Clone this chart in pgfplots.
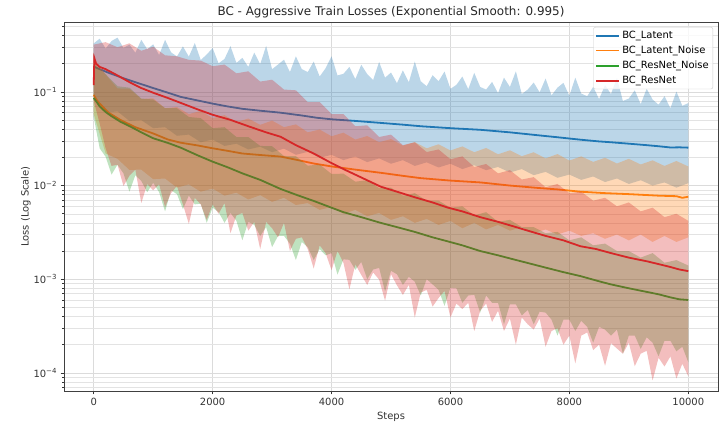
\documentclass[border=0pt]{standalone}
\usepackage{fontspec}
\setmainfont{DejaVu Sans}
\usepackage{pgfplots}
\pgfplotsset{compat=1.18}
\definecolor{tabblue}{HTML}{1F77B4}
\definecolor{taborange}{HTML}{FF7F0E}
\definecolor{tabgreen}{HTML}{2CA02C}
\definecolor{tabred}{HTML}{D62728}

\begin{document}
\begin{tikzpicture}
\begin{axis}[
  scale only axis, width=654bp, height=369bp,
  ymode=log,
  xmin=-500, xmax=10500, ymin=6.4e-5, ymax=0.558,
  scaled x ticks=false,
  xtick={0,2000,4000,6000,8000,10000},
  xticklabels={0,2000,4000,6000,8000,10000},
  ytick={1e-4,1e-3,1e-2,1e-1},
  yticklabels={10\textsuperscript{−4},10\textsuperscript{−3},10\textsuperscript{−2},10\textsuperscript{−1}},
  minor ytick={7e-5,8e-5,9e-5,2e-4,3e-4,4e-4,5e-4,6e-4,7e-4,8e-4,9e-4,2e-3,3e-3,4e-3,5e-3,6e-3,7e-3,8e-3,9e-3,2e-2,3e-2,4e-2,5e-2,6e-2,7e-2,8e-2,9e-2,0.2,0.3,0.4,0.5},
  xmajorgrids, ymajorgrids, yminorgrids,
  major grid style={black!14, line width=0.5bp},
  minor grid style={black!11, line width=0.5bp},
  tick align=outside, tick pos=left,
  major tick length=3.5bp, minor tick length=2bp,
  every tick/.style={black!80, line width=0.6bp},
  axis line style={black!75, line width=0.8bp},
  tick label style={font=\fontsize{10}{12}\selectfont, text=black!80},
  label style={font=\fontsize{10}{12}\selectfont, text=black!80},
  ylabel style={yshift=-4bp},
  title={BC - Aggressive Train Losses (Exponential Smooth: 0.995)},
  title style={font=\fontsize{12}{14}\selectfont, text=black!85, yshift=-5bp},
  xlabel={Steps}, ylabel={Loss (Log Scale)},
  legend style={at={(1,1)}, anchor=north east, xshift=-5bp, yshift=-5bp,
    font=\fontsize{10}{12}\selectfont, draw=black!20, rounded corners=2bp,
    fill=white, fill opacity=0.8, text opacity=1, inner sep=2bp, row sep=2bp},
  legend cell align=left,
  legend image code/.code={\draw[#1] (0bp,0bp) -- (23bp,0bp);},
  band/.style={draw=none, fill=#1, fill opacity=0.3, forget plot},
]
% ---------- BC_Latent: raw-loss band (upper edge, then lower edge backwards), then smoothed curve
\addplot[band=tabblue] coordinates {
(0,0.33) (100,0.37) (200,0.29) (300,0.35) (400,0.38) (500,0.295) (600,0.32) (700,0.262) (800,0.36) (900,0.286)
(1000,0.322) (1100,0.248) (1200,0.36) (1300,0.265) (1400,0.239) (1500,0.306) (1600,0.238) (1700,0.333) (1800,0.219) (1900,0.251)
(2000,0.294) (2100,0.202) (2200,0.225) (2300,0.308) (2400,0.204) (2500,0.231) (2600,0.185) (2700,0.263) (2800,0.198) (2900,0.31)
(3000,0.175) (3100,0.196) (3200,0.221) (3300,0.163) (3400,0.24) (3500,0.175) (3600,0.163) (3700,0.211) (3800,0.146) (3900,0.179)
(4000,0.24) (4100,0.15) (4200,0.156) (4300,0.185) (4400,0.137) (4500,0.195) (4600,0.155) (4700,0.134) (4800,0.209) (4900,0.142)
(5000,0.161) (5100,0.124) (5200,0.17) (5300,0.127) (5400,0.211) (5500,0.13) (5600,0.115) (5700,0.151) (5800,0.13) (5900,0.165)
(6000,0.108) (6100,0.119) (6200,0.146) (6300,0.107) (6400,0.16) (6500,0.113) (6600,0.106) (6700,0.128) (6800,0.097) (6900,0.142)
(7000,0.113) (7100,0.166) (7200,0.095) (7300,0.106) (7400,0.126) (7500,0.099) (7600,0.139) (7700,0.092) (7800,0.111) (7900,0.125)
(8000,0.091) (8100,0.142) (8200,0.096) (8300,0.09) (8400,0.113) (8500,0.084) (8600,0.118) (8700,0.095) (8800,0.141) (8900,0.08)
(9000,0.085) (9100,0.104) (9200,0.074) (9300,0.108) (9400,0.083) (9500,0.073) (9600,0.09) (9700,0.067) (9800,0.101) (9900,0.071)
(10000,0.076)
(10000,0.0106) (9800,0.0095) (9600,0.0108) (9400,0.01) (9200,0.0114) (9000,0.0104) (8800,0.0119) (8600,0.0109) (8400,0.0125) (8200,0.0115)
(8000,0.0131) (7800,0.0121) (7600,0.014) (7400,0.0129) (7200,0.015) (7000,0.0138) (6800,0.0158) (6600,0.0146) (6400,0.0165) (6200,0.015)
(6000,0.0171) (5800,0.0156) (5600,0.0177) (5400,0.0162) (5200,0.0187) (5000,0.0171) (4800,0.0195) (4600,0.0178) (4400,0.0204) (4200,0.0187)
(4000,0.0213) (3800,0.0198) (3600,0.0229) (3400,0.0213) (3200,0.0248) (3000,0.0227) (2800,0.026) (2600,0.0243) (2400,0.028) (2200,0.0265)
(2000,0.031) (1800,0.029) (1600,0.035) (1400,0.034) (1200,0.042) (1000,0.041) (800,0.050) (600,0.049) (400,0.062) (200,0.06) (0,0.09)};
\addplot[tabblue, line width=1.8bp] coordinates {
(0,0.186) (100,0.175) (250,0.16) (500,0.14) (750,0.124) (1000,0.11) (1250,0.098) (1462,0.0885)
(1750,0.081) (2000,0.075) (2250,0.070) (2500,0.066) (2800,0.063) (3143,0.060) (3500,0.056)
(3750,0.053) (4000,0.051) (4400,0.049) (4824,0.0467) (5200,0.0447) (5500,0.043) (6000,0.041)
(6504,0.0394) (7000,0.037) (7500,0.0343) (7800,0.0328) (8185,0.0309) (8500,0.0296) (8700,0.029)
(9000,0.028) (9300,0.027) (9500,0.0263) (9700,0.0255) (9850,0.0256) (10000,0.0254)};
\addlegendentry{BC\_Latent}
% ---------- BC_Latent_Noise
\addplot[band=taborange] coordinates {
(0,0.23) (200,0.153) (400,0.109) (600,0.108) (800,0.084) (1000,0.0855) (1200,0.067) (1400,0.069) (1600,0.058) (1800,0.0626)
(2000,0.0525) (2200,0.0565) (2400,0.0475) (2600,0.052) (2800,0.0445) (3000,0.0494) (3200,0.042) (3400,0.045) (3600,0.037) (3800,0.0397)
(4000,0.0336) (4200,0.0367) (4400,0.031) (4600,0.0338) (4800,0.029) (5000,0.0314) (5200,0.0267) (5400,0.0291) (5600,0.025) (5800,0.0276)
(6000,0.0237) (6200,0.0262) (6400,0.0227) (6600,0.0252) (6800,0.0216) (7000,0.0238) (7200,0.0206) (7400,0.0227) (7600,0.0195) (7800,0.0217)
(8000,0.0185) (8200,0.0205) (8400,0.0179) (8600,0.0198) (8800,0.0172) (9000,0.0193) (9200,0.0168) (9400,0.0186) (9600,0.0162) (9800,0.0183)
(10000,0.016)
(10000,0.0028) (9800,0.0025) (9600,0.0029) (9400,0.0025) (9200,0.003) (9000,0.0026) (8800,0.003) (8600,0.0027) (8400,0.0031) (8200,0.0029)
(8000,0.0033) (7800,0.003) (7600,0.0034) (7400,0.0031) (7200,0.0036) (7000,0.0033) (6800,0.0038) (6600,0.0034) (6400,0.004) (6200,0.0035)
(6000,0.0042) (5800,0.0038) (5600,0.0044) (5400,0.004) (5200,0.0047) (5000,0.0043) (4800,0.0051) (4600,0.0047) (4400,0.0055) (4200,0.005)
(4000,0.0059) (3800,0.0055) (3600,0.0065) (3400,0.0062) (3200,0.0074) (3000,0.0067) (2800,0.0079) (2600,0.0071) (2400,0.0084) (2200,0.0078)
(2000,0.0093) (1800,0.0086) (1600,0.0103) (1400,0.0095) (1200,0.0119) (1000,0.0117) (800,0.0148) (600,0.0147) (400,0.0193) (200,0.022) (0,0.058)};
\addplot[taborange, line width=1.8bp] coordinates {
(0,0.093) (50,0.082) (100,0.075) (250,0.060) (454,0.050) (700,0.042) (1000,0.036) (1250,0.031)
(1462,0.0287) (1750,0.0268) (2000,0.025) (2250,0.0235) (2500,0.022) (2800,0.0212) (3143,0.0204)
(3400,0.0189) (3700,0.0172) (4000,0.016) (4400,0.0148) (4824,0.0137) (5200,0.0127) (5500,0.012)
(6000,0.0113) (6504,0.0108) (7000,0.0100) (7500,0.0094) (7800,0.0091) (8185,0.0086) (8600,0.0083)
(9000,0.0081) (9500,0.0078) (9800,0.0077) (9900,0.0074) (10000,0.0076)};
\addlegendentry{BC\_Latent\_Noise}
% ---------- BC_ResNet_Noise
\addplot[band=tabgreen] coordinates {
(0,0.20) (200,0.155) (400,0.115) (600,0.111) (800,0.085) (1000,0.083) (1200,0.067) (1400,0.067) (1600,0.054) (1800,0.0525)
(2000,0.041) (2200,0.042) (2400,0.033) (2600,0.033) (2800,0.0265) (3000,0.0263) (3200,0.0207) (3400,0.0206) (3600,0.0163) (3800,0.0168)
(4000,0.0133) (4200,0.0134) (4400,0.011) (4600,0.0114) (4800,0.0094) (5000,0.0095) (5200,0.0078) (5400,0.0083) (5600,0.0069) (5800,0.0069)
(6000,0.0058) (6200,0.006) (6400,0.0048) (6600,0.0052) (6800,0.0041) (7000,0.0043) (7200,0.0036) (7400,0.0036) (7600,0.0031) (7800,0.0032)
(8000,0.0026) (8200,0.0028) (8400,0.0023) (8600,0.0024) (8800,0.002) (9000,0.002) (9200,0.0017) (9400,0.0019) (9600,0.0015) (9800,0.0016)
(10000,0.0014)
(10000,0.00013) (9900,0.00019) (9800,0.00017) (9700,0.00022) (9600,0.00022) (9500,0.00015) (9400,0.00021) (9300,0.00024) (9200,0.00018) (9100,0.00025)
(9000,0.00025) (8900,0.00016) (8800,0.00029) (8700,0.00025) (8600,0.00029) (8500,0.00031) (8400,0.00021) (8300,0.00031) (8200,0.00036) (8100,0.00028)
(8000,0.00037) (7900,0.00037) (7800,0.00025) (7700,0.00037) (7600,0.00044) (7500,0.00045) (7400,0.00033) (7300,0.00047) (7200,0.00041) (7100,0.00054)
(7000,0.00054) (6900,0.00033) (6800,0.00056) (6700,0.00056) (6600,0.00067) (6500,0.00044) (6400,0.00068) (6300,0.00067) (6200,0.00056) (6100,0.0008)
(6000,0.00081) (5900,0.00052) (5800,0.00077) (5700,0.00088) (5600,0.001) (5500,0.00067) (5400,0.00094) (5300,0.00106) (5200,0.00087) (5100,0.00113)
(5000,0.00123) (4900,0.00074) (4800,0.00132) (4700,0.00127) (4600,0.001) (4500,0.00153) (4400,0.00126) (4300,0.00161) (4200,0.00163) (4100,0.00112)
(4000,0.0019) (3900,0.0018) (3800,0.0021) (3700,0.0016) (3600,0.0022) (3500,0.0025) (3400,0.0016) (3300,0.0024) (3200,0.0029) (3100,0.0029)
(3000,0.0022) (2900,0.0036) (2800,0.0029) (2700,0.0038) (2600,0.0041) (2500,0.0026) (2400,0.0042) (2300,0.0051) (2200,0.004) (2100,0.0052)
(2000,0.0058) (1900,0.004) (1800,0.0064) (1700,0.0063) (1600,0.0078) (1500,0.0056) (1400,0.0081) (1300,0.0089) (1200,0.0053) (1100,0.0085)
(1000,0.0107) (900,0.0085) (800,0.0112) (700,0.0129) (600,0.0086) (500,0.0135) (400,0.0167) (300,0.0131) (200,0.0203) (100,0.025) (0,0.054)};
\addplot[tabgreen, line width=1.8bp] coordinates {
(0,0.086) (50,0.078) (100,0.070) (200,0.061) (300,0.055) (450,0.048) (622,0.0425) (800,0.037)
(1000,0.032) (1250,0.0285) (1462,0.0254) (1750,0.021) (2000,0.018) (2250,0.0157) (2500,0.0135)
(2800,0.0115) (3143,0.0092) (3400,0.0080) (3714,0.0068) (4000,0.0058) (4200,0.0052) (4500,0.0046)
(4824,0.0040) (5100,0.0036) (5400,0.0032) (5700,0.0028) (5950,0.00254) (6200,0.0023) (6500,0.0020)
(6800,0.0018) (7059,0.00163) (7300,0.00149) (7600,0.00133) (7900,0.00119) (8185,0.00108)
(8500,0.00095) (8700,0.00088) (9000,0.0008) (9311,0.00073) (9500,0.00069) (9700,0.00064)
(9850,0.00061) (10000,0.0006)};
\addlegendentry{BC\_ResNet\_Noise}
% ---------- BC_ResNet
\addplot[band=tabred] coordinates {
(0,0.32) (200,0.34) (400,0.30) (600,0.33) (800,0.275) (1000,0.304) (1200,0.246) (1400,0.24) (1600,0.22) (1800,0.216)
(2000,0.188) (2200,0.196) (2400,0.158) (2600,0.166) (2800,0.129) (3000,0.135) (3200,0.106) (3400,0.104) (3600,0.078) (3800,0.078)
(4000,0.058) (4200,0.058) (4400,0.043) (4600,0.044) (4800,0.033) (5000,0.035) (5200,0.027) (5400,0.029) (5600,0.0228) (5800,0.0243)
(6000,0.0191) (6200,0.0205) (6400,0.0158) (6600,0.017) (6800,0.0135) (7000,0.0146) (7200,0.0116) (7400,0.0123) (7600,0.0096) (7800,0.0104)
(8000,0.0083) (8200,0.0086) (8400,0.0069) (8600,0.0074) (8800,0.006) (9000,0.0066) (9200,0.0053) (9400,0.0058) (9600,0.0046) (9800,0.005)
(10000,0.0042)
(10000,0.000092) (9900,0.000125) (9800,0.000087) (9700,0.00015) (9600,0.000117) (9500,0.000145) (9400,0.000083) (9300,0.000172) (9200,0.00016) (9100,0.000118)
(9000,0.00021) (8900,0.00016) (8800,0.000182) (8700,0.000207) (8600,0.000119) (8500,0.0002) (8400,0.000175) (8300,0.00027) (8200,0.00025) (8100,0.000126)
(8000,0.00025) (7900,0.0002) (7800,0.0003) (7700,0.00028) (7600,0.00019) (7500,0.00038) (7400,0.00029) (7300,0.00033) (7200,0.00039) (7100,0.0002)
(7000,0.00038) (6900,0.00028) (6800,0.00046) (6700,0.00035) (6600,0.00055) (6500,0.00046) (6400,0.00028) (6300,0.00056) (6200,0.00048) (6100,0.00055)
(6000,0.00039) (5900,0.00075) (5800,0.00063) (5700,0.00051) (5600,0.00077) (5500,0.00072) (5400,0.00039) (5300,0.00087) (5200,0.00068) (5100,0.00086)
(5000,0.00113) (4900,0.00059) (4800,0.00099) (4700,0.00118) (4600,0.00087) (4500,0.00111) (4400,0.00144) (4300,0.00078) (4200,0.0015) (4100,0.002)
(4000,0.00125) (3900,0.0019) (3800,0.0023) (3700,0.0013) (3600,0.0021) (3500,0.0028) (3400,0.0027) (3300,0.002) (3200,0.004) (3100,0.0028)
(3000,0.0035) (2900,0.0041) (2800,0.0021) (2700,0.0041) (2600,0.0033) (2500,0.0051) (2400,0.0048) (2300,0.0031) (2200,0.0065) (2100,0.005)
(2000,0.0063) (1900,0.0043) (1800,0.0063) (1700,0.0074) (1600,0.0039) (1500,0.0063) (1400,0.0099) (1300,0.0083) (1200,0.0059) (1100,0.0103)
(1000,0.0089) (900,0.0104) (800,0.0065) (700,0.0148) (600,0.0127) (500,0.0099) (400,0.0167) (300,0.0162) (200,0.025) (100,0.046) (0,0.08)};
\addplot[tabred, line width=1.8bp] coordinates {
(0,0.118) (10,0.23) (40,0.20) (100,0.185) (200,0.175) (400,0.15) (622,0.125) (800,0.11)
(1000,0.098) (1250,0.086) (1462,0.0764) (1750,0.065) (2000,0.057) (2300,0.0503) (2600,0.043)
(2900,0.037) (3143,0.0332) (3400,0.027) (3700,0.022) (3983,0.0176) (4200,0.0150) (4500,0.0122)
(4824,0.00975) (5100,0.0086) (5400,0.0075) (5700,0.0066) (5950,0.00583) (6200,0.0053) (6500,0.0046)
(6800,0.0041) (7059,0.00367) (7300,0.0033) (7600,0.0029) (7900,0.0026) (8185,0.00225)
(8450,0.0021) (8700,0.0019) (9000,0.0017) (9311,0.00155) (9500,0.00145) (9700,0.00135)
(9850,0.00127) (10000,0.00122)};
\addlegendentry{BC\_ResNet}
\end{axis}
\pgfresetboundingbox
\path (-64bp,-33bp) rectangle (656bp,391bp);
\end{tikzpicture}
\end{document}
